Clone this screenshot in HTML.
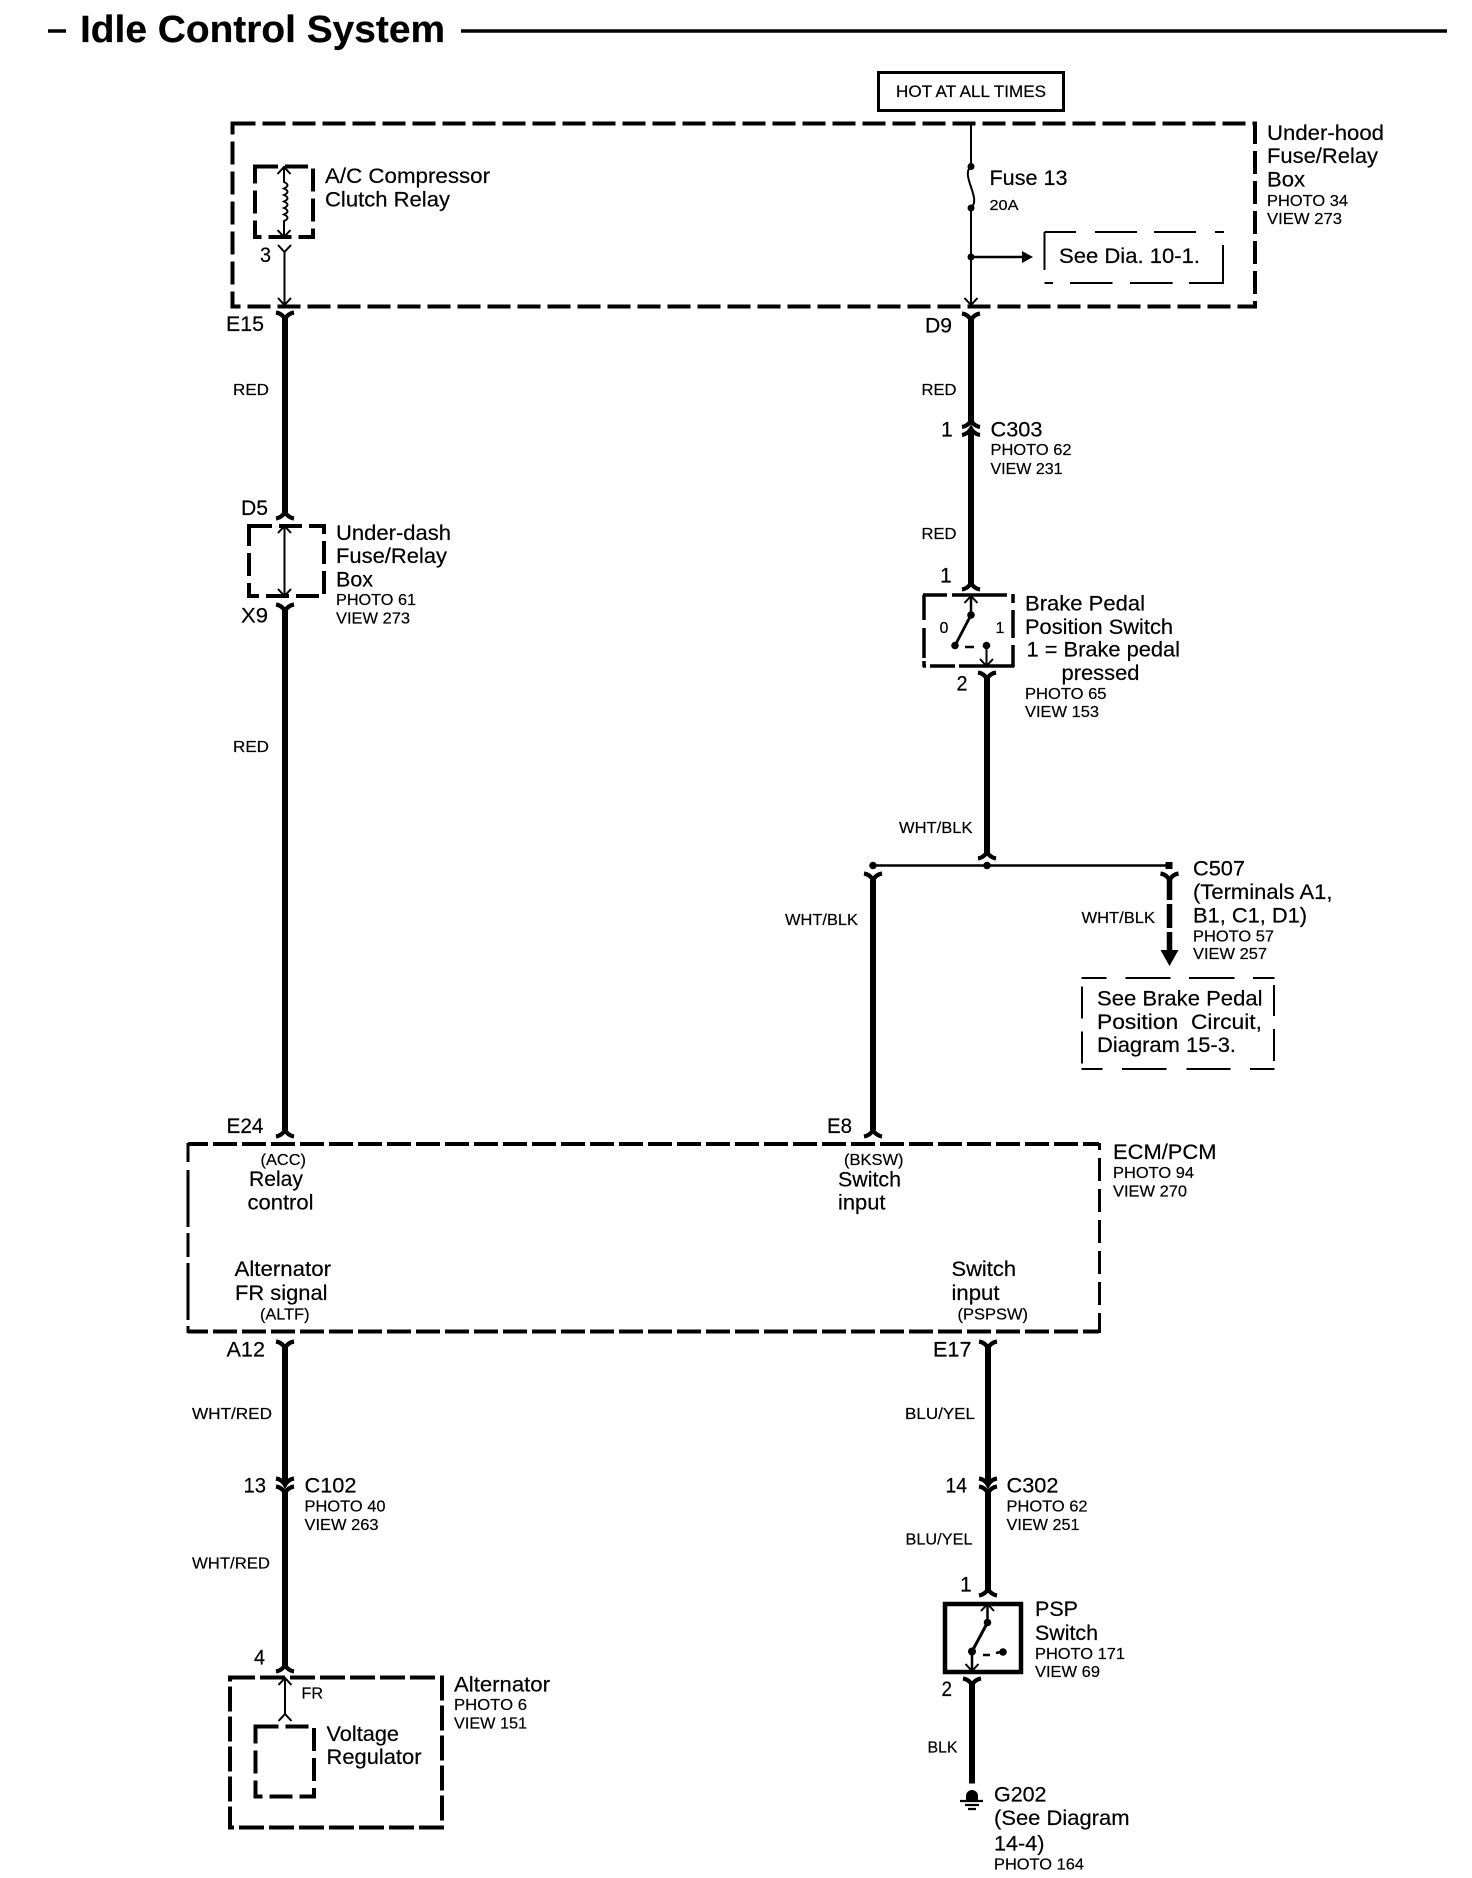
<!DOCTYPE html>
<html><head><meta charset="utf-8"><title>Idle Control System</title>
<style>
html,body{margin:0;padding:0;background:#fff}
svg{display:block}
text{font-family:"Liberation Sans",sans-serif;fill:#000;font-size:21px;stroke:#000;stroke-width:.2}
.s{font-size:16px}
.t{fill:none;stroke:#000;stroke-width:2}
.w{fill:none;stroke:#000;stroke-width:6}
.d{fill:none;stroke:#000;stroke-width:4;stroke-dasharray:23 7}
.n{fill:none;stroke:#000;stroke-width:2}
.c{fill:none;stroke:#000;stroke-width:4.2}
</style></head><body>
<svg width="1472" height="1878" viewBox="0 0 1472 1878" xmlns="http://www.w3.org/2000/svg">
<defs>
<path id="y" class="c" d="M-9,-6.5 Q-3,-5.5 0,0 Q3,-5.5 9,-6.5"/>
<path id="u" class="c" d="M-9,6.5 Q-3,5.5 0,0 Q3,5.5 9,6.5"/>
<path id="ad" class="t" d="M-6.5,-7 L0,0 L6.5,-7"/>
<path id="au" class="t" d="M-6.5,7 L0,0 L6.5,7"/>
</defs>
<rect width="1472" height="1878" fill="#fff"/>

<!-- title -->
<line x1="48" y1="31" x2="66" y2="31" stroke="#000" stroke-width="3.5"/>
<text x="80" y="42" style="font-size:38px;font-weight:bold" textLength="365" lengthAdjust="spacingAndGlyphs">Idle Control System</text>
<line x1="461" y1="31" x2="1447" y2="31" stroke="#000" stroke-width="3.5"/>

<!-- HOT -->
<rect x="878.5" y="72.5" width="185" height="38" fill="none" stroke="#000" stroke-width="3"/>
<text x="896" y="97" style="font-size:16.5px" textLength="150" lengthAdjust="spacingAndGlyphs">HOT AT ALL TIMES</text>

<!-- under-hood box -->
<rect x="232.5" y="123.5" width="1022.5" height="183" class="d"/>
<text x="1267" y="140" textLength="117" lengthAdjust="spacingAndGlyphs">Under-hood</text>
<text x="1267" y="163" textLength="111" lengthAdjust="spacingAndGlyphs">Fuse/Relay</text>
<text x="1267" y="186.5" textLength="38" lengthAdjust="spacingAndGlyphs">Box</text>
<text x="1267" y="206" class="s" textLength="81" lengthAdjust="spacingAndGlyphs">PHOTO 34</text>
<text x="1267" y="224" class="s" textLength="75" lengthAdjust="spacingAndGlyphs">VIEW 273</text>

<!-- relay -->
<rect x="255" y="166.5" width="58" height="70.5" class="d"/>
<path class="t" d="M284,167 V182 q7,3.2 0,6.5 q7,3.2 0,6.5 q7,3.2 0,6.5 q7,3.2 0,6.5 q7,3.2 0,6.5 q7,3.2 0,6.5 V237"/>
<use href="#au" x="284" y="167"/><use href="#ad" x="284" y="237"/>
<text x="325" y="183" textLength="165" lengthAdjust="spacingAndGlyphs">A/C Compressor</text>
<text x="325" y="206.5" textLength="125" lengthAdjust="spacingAndGlyphs">Clutch Relay</text>
<text x="260" y="262" textLength="11" lengthAdjust="spacingAndGlyphs">3</text>
<path class="n" d="M278,245 L284.5,252 L291,245 M284.5,252 V305"/>
<use href="#ad" x="284.5" y="305"/>

<!-- fuse section -->
<path class="n" d="M971,123 V166 C960,176 982,198 971,208 V305"/>
<circle cx="971" cy="166.5" r="3.5"/><circle cx="971" cy="208" r="3.5"/><circle cx="971" cy="257" r="3.5"/>
<line x1="971" y1="257" x2="1024" y2="257" stroke="#000" stroke-width="2.5"/>
<polygon points="1022,251 1033,257 1022,263"/>
<use href="#ad" x="971" y="305"/>
<text x="989.5" y="185" textLength="78" lengthAdjust="spacingAndGlyphs">Fuse 13</text>
<text x="989.5" y="210" style="font-size:15px" textLength="29" lengthAdjust="spacingAndGlyphs">20A</text>
<path class="n" d="M1044.5,232 H1076 M1095,232 H1137 M1154,232 H1196 M1215,232 H1224 M1044.5,232 V270 M1223,245 V284 M1044.5,283 H1053 M1070,283 H1112.5 M1130,283 H1172.6 M1189,283 H1223"/>
<text x="1059" y="263" textLength="141" lengthAdjust="spacingAndGlyphs">See Dia. 10-1.</text>

<!-- left wires -->
<use href="#y" x="285" y="319"/>
<line x1="285" y1="318" x2="285" y2="514" class="w"/>
<use href="#u" x="285" y="512"/>
<text x="226" y="331" textLength="38" lengthAdjust="spacingAndGlyphs">E15</text>
<text x="233" y="395" class="s" textLength="36" lengthAdjust="spacingAndGlyphs">RED</text>
<text x="241" y="515" textLength="27" lengthAdjust="spacingAndGlyphs">D5</text>
<rect x="249" y="526" width="75" height="70" class="d"/>
<line x1="284.5" y1="526" x2="284.5" y2="596" class="t"/>
<use href="#au" x="284.5" y="526"/><use href="#ad" x="284.5" y="596"/>
<text x="336" y="540" textLength="115" lengthAdjust="spacingAndGlyphs">Under-dash</text>
<text x="336" y="563" textLength="111" lengthAdjust="spacingAndGlyphs">Fuse/Relay</text>
<text x="336" y="586.5" textLength="37" lengthAdjust="spacingAndGlyphs">Box</text>
<text x="336" y="605" class="s" textLength="80" lengthAdjust="spacingAndGlyphs">PHOTO 61</text>
<text x="336" y="623.5" class="s" textLength="74" lengthAdjust="spacingAndGlyphs">VIEW 273</text>
<text x="241" y="622.5" textLength="27" lengthAdjust="spacingAndGlyphs">X9</text>
<use href="#y" x="285" y="611"/>
<line x1="285" y1="610" x2="285" y2="1130" class="w"/>
<text x="233" y="752" class="s" textLength="36" lengthAdjust="spacingAndGlyphs">RED</text>
<use href="#u" x="285" y="1130"/>
<text x="226.5" y="1133" textLength="37" lengthAdjust="spacingAndGlyphs">E24</text>

<!-- right top wires -->
<use href="#y" x="971" y="320"/>
<line x1="971" y1="319" x2="971" y2="422" class="w"/>
<path class="c" d="M962,427 Q968,426 971,420.5 Q974,426 980,427"/>
<path class="c" d="M962,435 Q968,434 971,428.5 Q974,434 980,435"/>
<line x1="971" y1="431" x2="971" y2="585" class="w"/>
<use href="#u" x="971" y="583"/>
<text x="925" y="332.5" textLength="27" lengthAdjust="spacingAndGlyphs">D9</text>
<text x="921.5" y="395" class="s" textLength="35" lengthAdjust="spacingAndGlyphs">RED</text>
<text x="941" y="436.5">1</text>
<text x="990.5" y="436.5" textLength="52" lengthAdjust="spacingAndGlyphs">C303</text>
<text x="990.5" y="455" class="s" textLength="81" lengthAdjust="spacingAndGlyphs">PHOTO 62</text>
<text x="990.5" y="474" class="s" textLength="72" lengthAdjust="spacingAndGlyphs">VIEW 231</text>
<text x="921.5" y="539" class="s" textLength="35" lengthAdjust="spacingAndGlyphs">RED</text>
<text x="940" y="582.5">1</text>

<!-- brake switch -->
<path fill="none" stroke="#000" stroke-width="3.5" d="M923,595 H947 M952,595 H1007 M1013,594 V603 M1013,610 V638 M1013,645 V667 M924,595 V620 M924,628 V658 M924,661 V667 M923,666 H926 M930,666 H955 M959,666 H1014"/>
<line x1="971" y1="596" x2="971" y2="615" stroke="#000" stroke-width="2.5"/>
<use href="#au" x="971" y="596"/>
<circle cx="971" cy="615" r="3.8"/>
<line x1="971" y1="615" x2="955" y2="645.5" stroke="#000" stroke-width="2.8"/>
<circle cx="955" cy="645.5" r="3.8"/>
<line x1="965" y1="647" x2="974" y2="647" stroke="#000" stroke-width="2.5"/>
<circle cx="986.5" cy="645.5" r="3.8"/>
<line x1="986.5" y1="645.5" x2="986.5" y2="666" class="t"/>
<use href="#ad" x="986.5" y="666"/>
<text x="939.5" y="633" class="s">0</text>
<text x="995.5" y="633" class="s">1</text>
<text x="1025" y="610.5" textLength="120" lengthAdjust="spacingAndGlyphs">Brake Pedal</text>
<text x="1025" y="634" textLength="148" lengthAdjust="spacingAndGlyphs">Position Switch</text>
<text x="1026.5" y="656.5" textLength="153.5" lengthAdjust="spacingAndGlyphs">1 = Brake pedal</text>
<text x="1061.5" y="680" textLength="78" lengthAdjust="spacingAndGlyphs">pressed</text>
<text x="1025" y="699" class="s" textLength="81.5" lengthAdjust="spacingAndGlyphs">PHOTO 65</text>
<text x="1025" y="717" class="s" textLength="74" lengthAdjust="spacingAndGlyphs">VIEW 153</text>
<text x="956.5" y="690.5" textLength="11" lengthAdjust="spacingAndGlyphs">2</text>

<use href="#y" x="987" y="679"/>
<line x1="987" y1="678" x2="987" y2="854" class="w"/>
<use href="#u" x="987" y="852"/>
<text x="899" y="833" class="s" textLength="73.5" lengthAdjust="spacingAndGlyphs">WHT/BLK</text>
<line x1="873" y1="865.5" x2="1169" y2="865.5" stroke="#000" stroke-width="2.5"/>
<circle cx="873" cy="865.5" r="3.8"/><circle cx="987" cy="865.5" r="3.8"/>
<rect x="1165.5" y="862" width="7" height="7"/>

<!-- C507 -->
<use href="#y" x="1169.5" y="880"/>
<path stroke="#000" stroke-width="5.5" fill="none" d="M1169.5,879 V900 M1169.5,904 V928 M1169.5,932 V952"/>
<polygon points="1160.5,950 1178.5,950 1169.5,966"/>
<text x="1081.5" y="923" class="s" textLength="73.5" lengthAdjust="spacingAndGlyphs">WHT/BLK</text>
<text x="1193" y="875.5" textLength="52" lengthAdjust="spacingAndGlyphs">C507</text>
<text x="1193" y="899" textLength="139.5" lengthAdjust="spacingAndGlyphs">(Terminals A1,</text>
<text x="1193" y="922.5" textLength="114" lengthAdjust="spacingAndGlyphs">B1, C1, D1)</text>
<text x="1193" y="941.5" class="s" textLength="81" lengthAdjust="spacingAndGlyphs">PHOTO 57</text>
<text x="1193" y="959" class="s" textLength="74" lengthAdjust="spacingAndGlyphs">VIEW 257</text>
<path class="n" d="M1081.5,978 H1106.5 M1125.5,978 H1170.5 M1189,978 H1234.5 M1253,978 H1274.5 M1081.5,1069 H1102.5 M1122,1069 H1166.5 M1186.5,1069 H1230.5 M1250,1069 H1274.5 M1082,986.5 V1018.5 M1082,1031.5 V1063.5 M1274,985 V1016 M1274,1029 V1061"/>
<text x="1097" y="1005.5" textLength="165.5" lengthAdjust="spacingAndGlyphs">See Brake Pedal</text>
<text x="1097" y="1029" textLength="165" lengthAdjust="spacingAndGlyphs" xml:space="preserve">Position  Circuit,</text>
<text x="1097" y="1052" textLength="139" lengthAdjust="spacingAndGlyphs">Diagram 15-3.</text>

<!-- E8 wire -->
<use href="#y" x="873" y="880"/>
<line x1="873" y1="879" x2="873" y2="1130" class="w"/>
<use href="#u" x="873" y="1130"/>
<text x="785" y="925" class="s" textLength="73" lengthAdjust="spacingAndGlyphs">WHT/BLK</text>
<text x="827" y="1133" textLength="25" lengthAdjust="spacingAndGlyphs">E8</text>

<!-- ECM -->
<line x1="188" y1="1144" x2="1099" y2="1144" stroke="#000" stroke-width="4" stroke-dasharray="24 5" stroke-dashoffset="4"/>
<line x1="188" y1="1331.5" x2="1099" y2="1331.5" stroke="#000" stroke-width="4" stroke-dasharray="24 5" stroke-dashoffset="4"/>
<path stroke="#000" stroke-width="3" fill="none" d="M188,1143 V1162 M188,1170 V1227 M188,1233 V1257 M188,1263 V1320 M188,1326 V1333"/>
<line x1="1099.5" y1="1143" x2="1099.5" y2="1333" stroke="#000" stroke-width="3" stroke-dasharray="23 8" stroke-dashoffset="16"/>
<text x="260.5" y="1165" class="s" textLength="45.5" lengthAdjust="spacingAndGlyphs">(ACC)</text>
<text x="249" y="1186" textLength="54" lengthAdjust="spacingAndGlyphs">Relay</text>
<text x="247.5" y="1209.5" textLength="66" lengthAdjust="spacingAndGlyphs">control</text>
<text x="844" y="1165" class="s" textLength="59.5" lengthAdjust="spacingAndGlyphs">(BKSW)</text>
<text x="838" y="1186.5" textLength="63" lengthAdjust="spacingAndGlyphs">Switch</text>
<text x="838" y="1209.5" textLength="47.5" lengthAdjust="spacingAndGlyphs">input</text>
<text x="1113" y="1159" textLength="103.5" lengthAdjust="spacingAndGlyphs">ECM/PCM</text>
<text x="1113" y="1178" class="s" textLength="81" lengthAdjust="spacingAndGlyphs">PHOTO 94</text>
<text x="1113" y="1196.5" class="s" textLength="74" lengthAdjust="spacingAndGlyphs">VIEW 270</text>
<text x="234.5" y="1276" textLength="96.5" lengthAdjust="spacingAndGlyphs">Alternator</text>
<text x="235" y="1300" textLength="92.5" lengthAdjust="spacingAndGlyphs">FR signal</text>
<text x="260" y="1319.5" class="s" textLength="49.5" lengthAdjust="spacingAndGlyphs">(ALTF)</text>
<text x="951.5" y="1276" textLength="64.5" lengthAdjust="spacingAndGlyphs">Switch</text>
<text x="951.5" y="1300" textLength="48" lengthAdjust="spacingAndGlyphs">input</text>
<text x="957.5" y="1319.5" class="s" textLength="70.5" lengthAdjust="spacingAndGlyphs">(PSPSW)</text>

<!-- lower left -->
<text x="226.5" y="1356.5" textLength="38.5" lengthAdjust="spacingAndGlyphs">A12</text>
<use href="#y" x="285" y="1348"/>
<line x1="285" y1="1347" x2="285" y2="1483" class="w"/>
<path class="c" d="M276,1478.5 Q282,1479.5 285,1485 Q288,1479.5 294,1478.5"/>
<path class="c" d="M276,1486.5 Q282,1487.5 285,1493 Q288,1487.5 294,1486.5"/>
<line x1="285" y1="1491" x2="285" y2="1667" class="w"/>
<use href="#u" x="285" y="1665"/>
<text x="192" y="1419" class="s" textLength="80" lengthAdjust="spacingAndGlyphs">WHT/RED</text>
<text x="243.5" y="1492.5" textLength="22.5" lengthAdjust="spacingAndGlyphs">13</text>
<text x="304.5" y="1492.5" textLength="52" lengthAdjust="spacingAndGlyphs">C102</text>
<text x="304.5" y="1511.5" class="s" textLength="81" lengthAdjust="spacingAndGlyphs">PHOTO 40</text>
<text x="304.5" y="1530" class="s" textLength="74" lengthAdjust="spacingAndGlyphs">VIEW 263</text>
<text x="192" y="1568.5" class="s" textLength="78" lengthAdjust="spacingAndGlyphs">WHT/RED</text>
<text x="254" y="1664.5" textLength="11" lengthAdjust="spacingAndGlyphs">4</text>

<rect x="230" y="1677.5" width="212" height="150" class="d" style="stroke-dasharray:25 5"/>
<line x1="285" y1="1678" x2="285" y2="1714" class="t"/>
<use href="#au" x="285" y="1678"/><use href="#au" x="285" y="1714"/>
<text x="301.5" y="1698.5" class="s" textLength="21.5" lengthAdjust="spacingAndGlyphs">FR</text>
<rect x="255.5" y="1726.5" width="58.5" height="70" class="d"/>
<text x="326.5" y="1741" textLength="72.5" lengthAdjust="spacingAndGlyphs">Voltage</text>
<text x="326.5" y="1764" textLength="95" lengthAdjust="spacingAndGlyphs">Regulator</text>
<text x="454" y="1691.5" textLength="96" lengthAdjust="spacingAndGlyphs">Alternator</text>
<text x="454" y="1710" class="s" textLength="73" lengthAdjust="spacingAndGlyphs">PHOTO 6</text>
<text x="454" y="1728.5" class="s" textLength="73" lengthAdjust="spacingAndGlyphs">VIEW 151</text>

<!-- lower right -->
<text x="933" y="1356.5" textLength="38.5" lengthAdjust="spacingAndGlyphs">E17</text>
<use href="#y" x="988" y="1348"/>
<line x1="988" y1="1347" x2="988" y2="1483" class="w"/>
<path class="c" d="M979,1478.5 Q985,1479.5 988,1485 Q991,1479.5 997,1478.5"/>
<path class="c" d="M979,1486.5 Q985,1487.5 988,1493 Q991,1487.5 997,1486.5"/>
<line x1="988" y1="1491" x2="988" y2="1591" class="w"/>
<use href="#u" x="988" y="1589"/>
<text x="905" y="1419" class="s" textLength="70" lengthAdjust="spacingAndGlyphs">BLU/YEL</text>
<text x="945.5" y="1492.5" textLength="21.5" lengthAdjust="spacingAndGlyphs">14</text>
<text x="1006.5" y="1492.5" textLength="52" lengthAdjust="spacingAndGlyphs">C302</text>
<text x="1006.5" y="1511.5" class="s" textLength="81" lengthAdjust="spacingAndGlyphs">PHOTO 62</text>
<text x="1006.5" y="1530" class="s" textLength="73" lengthAdjust="spacingAndGlyphs">VIEW 251</text>
<text x="905.5" y="1544.5" class="s" textLength="67" lengthAdjust="spacingAndGlyphs">BLU/YEL</text>
<text x="960" y="1591.5">1</text>

<rect x="945" y="1604" width="76" height="68" fill="none" stroke="#000" stroke-width="4.5"/>
<line x1="987.5" y1="1605" x2="987.5" y2="1623" stroke="#000" stroke-width="2.5"/>
<use href="#au" x="987.5" y="1604"/>
<circle cx="987.5" cy="1622.5" r="3.8"/>
<line x1="987.5" y1="1622.5" x2="972" y2="1651.5" stroke="#000" stroke-width="3"/>
<circle cx="972" cy="1651.5" r="4"/>
<line x1="972" y1="1651.5" x2="972" y2="1670" stroke="#000" stroke-width="2.5"/>
<use href="#ad" x="972" y="1671"/>
<line x1="983" y1="1655" x2="990" y2="1655" stroke="#000" stroke-width="2.5"/>
<line x1="996" y1="1653" x2="1003" y2="1651.5" stroke="#000" stroke-width="2.5"/>
<circle cx="1003" cy="1652" r="3.8"/>
<text x="1035" y="1616" textLength="43" lengthAdjust="spacingAndGlyphs">PSP</text>
<text x="1035" y="1640" textLength="63" lengthAdjust="spacingAndGlyphs">Switch</text>
<text x="1035" y="1659" class="s" textLength="90" lengthAdjust="spacingAndGlyphs">PHOTO 171</text>
<text x="1035" y="1677" class="s" textLength="65" lengthAdjust="spacingAndGlyphs">VIEW 69</text>
<text x="941.5" y="1696" textLength="10.5" lengthAdjust="spacingAndGlyphs">2</text>
<use href="#y" x="972" y="1685"/>
<line x1="972" y1="1684" x2="972" y2="1783.5" class="w"/>
<text x="927.5" y="1752.5" class="s" textLength="30" lengthAdjust="spacingAndGlyphs">BLK</text>
<path d="M966,1800 V1796 A6,6 0 0 1 978,1796 V1800 Z"/>
<path stroke="#000" stroke-width="2.2" fill="none" d="M960,1801 H983 M965,1805 H979 M968,1809 H976"/>
<text x="994" y="1801.5" textLength="52.5" lengthAdjust="spacingAndGlyphs">G202</text>
<text x="994" y="1825" textLength="135.5" lengthAdjust="spacingAndGlyphs">(See Diagram</text>
<text x="994" y="1850.5" textLength="50.5" lengthAdjust="spacingAndGlyphs">14-4)</text>
<text x="994" y="1869.5" class="s" textLength="90" lengthAdjust="spacingAndGlyphs">PHOTO 164</text>
</svg>
</body></html>
